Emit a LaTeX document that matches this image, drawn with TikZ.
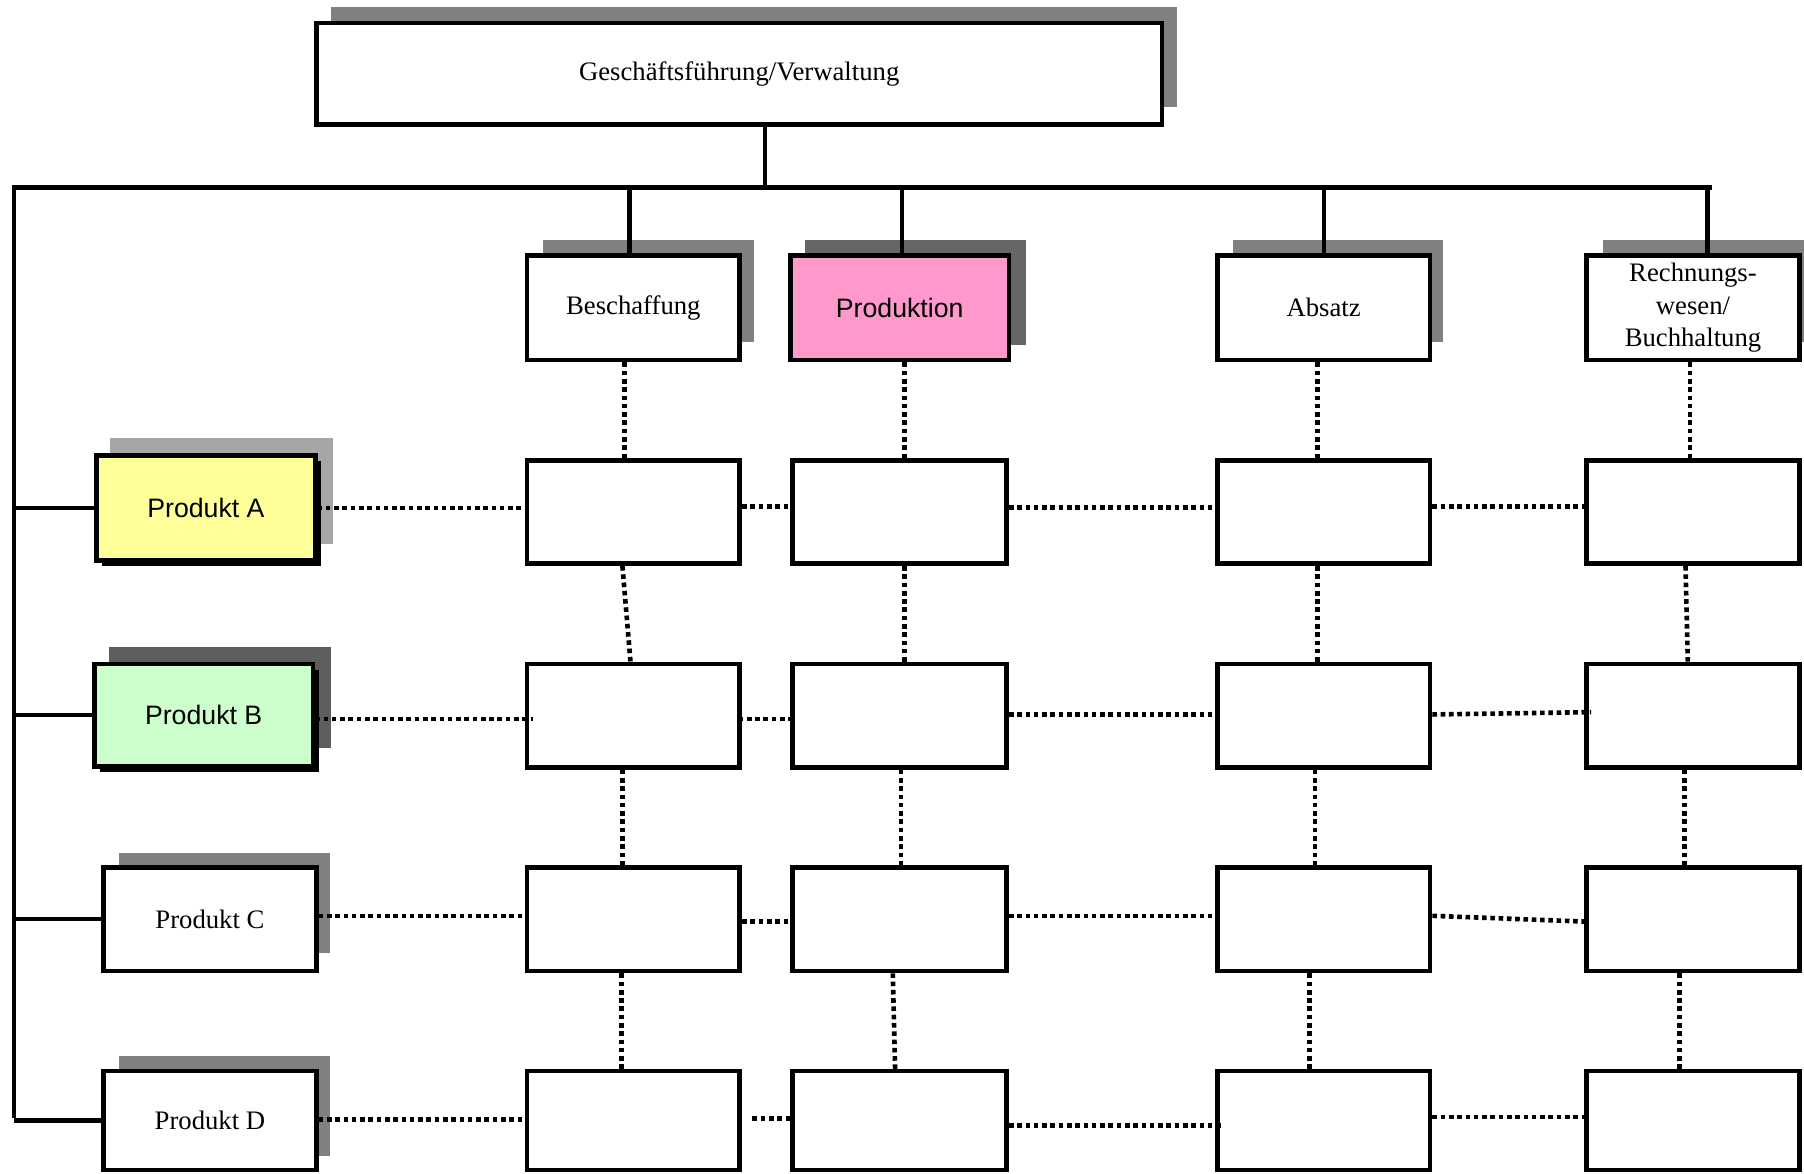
\documentclass[tikz,border=0pt]{standalone}
\usepackage{fontspec}
\setmainfont{Liberation Serif}
\setsansfont{Liberation Sans}
\usetikzlibrary{calc}
\definecolor{shad}{HTML}{808080}
\definecolor{shadP}{HTML}{666666}
\definecolor{shadA}{HTML}{A6A6A6}
\definecolor{shadB}{HTML}{5E5E5E}
\definecolor{pinkP}{HTML}{FF99CC}
\definecolor{yellowA}{HTML}{FFFF99}
\definecolor{greenB}{HTML}{CCFFCC}
\newcommand\fsz{\fontsize{11.6}{14.25}\selectfont}
\begin{document}
\begin{tikzpicture}[x=0.5pt,y=-0.5pt,
  box/.style={draw, line width=2pt, fill=white, inner sep=0pt, font=\fsz, align=center,
    minimum width=92.5pt, minimum height=45.5pt},
  sbox/.style={box, font=\fsz\sffamily},
  conn/.style={line width=1.9pt},
  dotline/.style={line width=2pt, dash pattern=on 2pt off 1.6pt}]
\useasboundingbox (0,0) rectangle (1568,1020);
% shadows
\fill[shad] (288,6) rectangle (1023,93);
\fill[shad] (472,209) rectangle (655,297);
\fill[shadP] (700,209) rectangle (892,300);
\fill[shad] (1072,209) rectangle (1254,297);
\fill[shad] (1393,209) rectangle (1568,297);
\fill[shadA] (96,381) rectangle (289,473);
\fill[shadB] (95,562) rectangle (288,650);
\fill[shad] (103,741) rectangle (287,828);
\fill[shad] (103,918) rectangle (287,1005);
\fill[black] (89,401) rectangle (279,492);
\fill[black] (87,582) rectangle (277,671);
% top and function boxes
\node[box, minimum width=367.5pt, minimum height=44pt] (gf) at (642.5,64) {Geschäftsführung/Verwaltung};
\node[box] (besch) at (550.5,267.5) {Beschaffung};
\node[sbox, fill=pinkP, minimum width=95pt] (prod) at (782,267.5) {Produktion};
\node[box] (abs) at (1150.5,267.5) {Absatz};
\node[box] (rw) at (1471.5,267.5) {Rechnungs-\\wesen/\\Buchhaltung};
% product boxes
\node[sbox, fill=yellowA, minimum width=95pt] (pA) at (179,441.5) {Produkt A};
\node[sbox, fill=greenB, minimum width=95pt, minimum height=44.5pt] (pB) at (177,621.5) {Produkt B};
\node[box, minimum height=45pt] (pC) at (182.5,799) {Produkt C};
\node[box, minimum height=43pt] (pD) at (182.5,974) {Produkt D};
% grid
\foreach \c/\cx/\w in {1/550.5/92.5, 2/782/93, 3/1150.5/92.5, 4/1471.5/92.5}
  \foreach \r/\cy/\h in {a/445/45, b/622/45, c/799/45, d/974/43}
    \node[box, minimum width=\w pt, minimum height=\h pt] (g\r\c) at (\cx,\cy) {};
% solid connectors
\coordinate (busL) at (12,163);
\coordinate (busR) at (1488,163);
\coordinate (busM) at (665,163);
\coordinate (leftEnd) at (12,972);
\draw[conn] (leftEnd) -- (busL) -- (busR);
\draw[conn] (gf.south -| busM) -- (busM);
\draw[conn] ($(besch.north)+(-3.5,0)$) -- ++(0,-59);
\draw[conn] ($(prod.north)+(2,0)$) -- ++(0,-59);
\draw[conn] ($(abs.north)+(0.5,0)$) -- ++(0,-59);
\draw[conn] ($(rw.north)+(12.5,0)$) -- ++(0,-59);
\foreach \p in {pA,pB,pC,pD}
  \draw[conn] (\p.west) -- (\p.west -| leftEnd);
% dotted verticals
\draw[dotline] ($(besch.south)+(-7.5,0)$) -- ($(ga1.north)+(-7.5,0)$);
\draw[dotline] ($(ga1.south)+(-9.5,0)$) -- ($(gb1.north)+(-2.5,0)$);
\draw[dotline] ($(gb1.south)+(-9.5,0)$) -- ($(gc1.north)+(-9.5,0)$);
\draw[dotline] ($(gc1.south)+(-10.5,0)$) -- ($(gd1.north)+(-10.5,0)$);
\draw[dotline] ($(prod.south)+(4,0)$) -- ($(ga2.north)+(4,0)$);
\draw[dotline] ($(ga2.south)+(4,0)$) -- ($(gb2.north)+(4,0)$);
\draw[dotline] ($(gb2.south)+(1,0)$) -- ($(gc2.north)+(1,0)$);
\draw[dotline] ($(gc2.south)+(-6,0)$) -- ($(gd2.north)+(-4,0)$);
\draw[dotline] ($(abs.south)+(-5.5,0)$) -- ($(ga3.north)+(-5.5,0)$);
\draw[dotline] ($(ga3.south)+(-5.5,0)$) -- ($(gb3.north)+(-5.5,0)$);
\draw[dotline] ($(gb3.south)+(-7.5,0)$) -- ($(gc3.north)+(-7.5,0)$);
\draw[dotline] ($(gc3.south)+(-12.5,0)$) -- ($(gd3.north)+(-12.5,0)$);
\draw[dotline] ($(rw.south)+(-2.5,0)$) -- ($(ga4.north)+(-2.5,0)$);
\draw[dotline] ($(ga4.south)+(-6.5,0)$) -- ($(gb4.north)+(-4.5,0)$);
\draw[dotline] ($(gb4.south)+(-7.5,0)$) -- ($(gc4.north)+(-7.5,0)$);
\draw[dotline] ($(gc4.south)+(-11.5,0)$) -- ($(gd4.north)+(-11.5,0)$);
% dotted horizontals
\draw[dotline] (pA.east) -- (pA.east -| ga1.west);
\draw[dotline] ($(ga1.east)+(0,-5)$) -- ($(ga2.west)+(0,-5)$);
\draw[dotline] ($(ga2.east)+(0,-4)$) -- ($(ga3.west)+(0,-4)$);
\draw[dotline] ($(ga3.east)+(0,-5)$) -- ($(ga4.west)+(0,-5)$);
\draw[dotline] ($(pB.east)+(0,3.5)$) -- ($(gb1.west)+(7,3)$);
\draw[dotline] ($(gb1.east)+(-3,3)$) -- ($(gb2.west)+(0,3)$);
\draw[dotline] ($(gb2.east)+(0,-1)$) -- ($(gb3.west)+(0,-1)$);
\draw[dotline] ($(gb3.east)+(0,-1)$) -- ($(gb4.west)+(6,-3)$);
\draw[dotline] ($(pC.east)+(0,-3)$) -- ($(gc1.west)+(0,-3)$);
\draw[dotline] ($(gc1.east)+(0,2)$) -- ($(gc2.west)+(0,2)$);
\draw[dotline] ($(gc2.east)+(0,-3)$) -- ($(gc3.west)+(0,-3)$);
\draw[dotline] ($(gc3.east)+(0,-3)$) -- ($(gc4.west)+(0,2)$);
\draw[dotline] ($(pD.east)+(0,-1)$) -- ($(gd1.west)+(0,-1)$);
\draw[dotline] ($(gd1.east)+(9,-2)$) -- ($(gd2.west)+(0,-2)$);
\draw[dotline] ($(gd2.east)+(0,4)$) -- ($(gd3.west)+(5,4)$);
\draw[dotline] ($(gd3.east)+(0,-3)$) -- ($(gd4.west)+(0,-3)$);
\end{tikzpicture}
\end{document}
